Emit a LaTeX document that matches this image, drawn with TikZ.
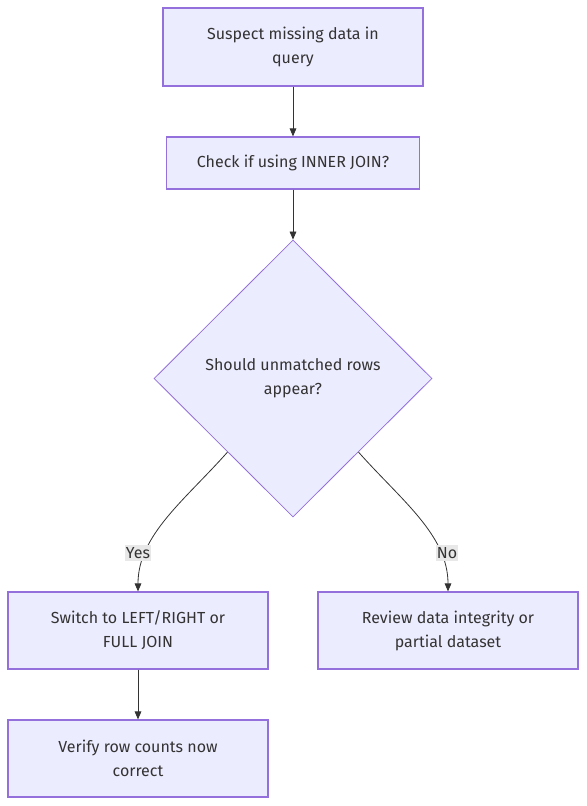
\documentclass[tikz,border=0pt]{standalone}
\usepackage{fontspec}
\setmainfont{Fira Sans}
\usepackage{tikz}
\usetikzlibrary{shapes.geometric,arrows.meta,calc}
\definecolor{boxfill}{HTML}{ECECFF}
\definecolor{boxline}{HTML}{9370DB}
\definecolor{ink}{HTML}{333333}
\definecolor{lblfill}{HTML}{E8E8E8}

\begin{document}
\begin{tikzpicture}[x=0.75pt, y=-0.75pt, font=\fontsize{12}{18}\selectfont, text=ink,
      box/.style={draw=boxline, fill=boxfill, line width=0.9pt, align=center, inner sep=0pt},
      decide/.style={diamond, draw=boxline, fill=boxfill, line width=0.6pt, align=center, inner sep=0pt,
            minimum width=278*0.75pt, minimum height=277*0.75pt},
      flow/.style={draw=ink, line width=0.6pt, -{Triangle[length=6pt, width=5pt]}},
      lbl/.style={fill=lblfill, inner xsep=1pt, inner ysep=2pt}]
      \useasboundingbox (0, 0) rectangle (586, 806);
      \node [box, minimum width=260*0.75pt, minimum height=78*0.75pt] (suspect) at (293, 47) {Suspect missing data in\\query};
      \node [box, minimum width=253*0.75pt, minimum height=52*0.75pt] (check) at (293, 163) {Check if using INNER JOIN?};
      \node [decide] (rows) at (293, 378.5) {Should unmatched rows\\appear?};
      \node [box, minimum width=260*0.75pt, minimum height=77*0.75pt] (switch) at (138, 630.5) {Switch to LEFT/RIGHT or\\FULL JOIN};
      \node [box, minimum width=260*0.75pt, minimum height=77*0.75pt] (review) at (448, 630.5) {Review data integrity or\\partial dataset};
      \node [box, minimum width=260*0.75pt, minimum height=77*0.75pt] (verify) at (138, 758.5) {Verify row counts now\\correct};

      \draw [flow] (suspect) -- (check);
      \draw [flow] (check) -- (rows);
      \draw [flow] ($(rows.west)!0.53!(rows.south)$) .. controls (185, 500) and (138, 535) .. (switch.north);
      \draw [flow] ($(rows.east)!0.53!(rows.south)$) .. controls (401, 500) and (448, 535) .. (review.north);
      \draw [flow] (switch) -- (verify);
      \node [lbl] (yes) at (138, 553) {Yes};
      \node [lbl] (no) at (447, 553) {No};
\end{tikzpicture}
\end{document}
